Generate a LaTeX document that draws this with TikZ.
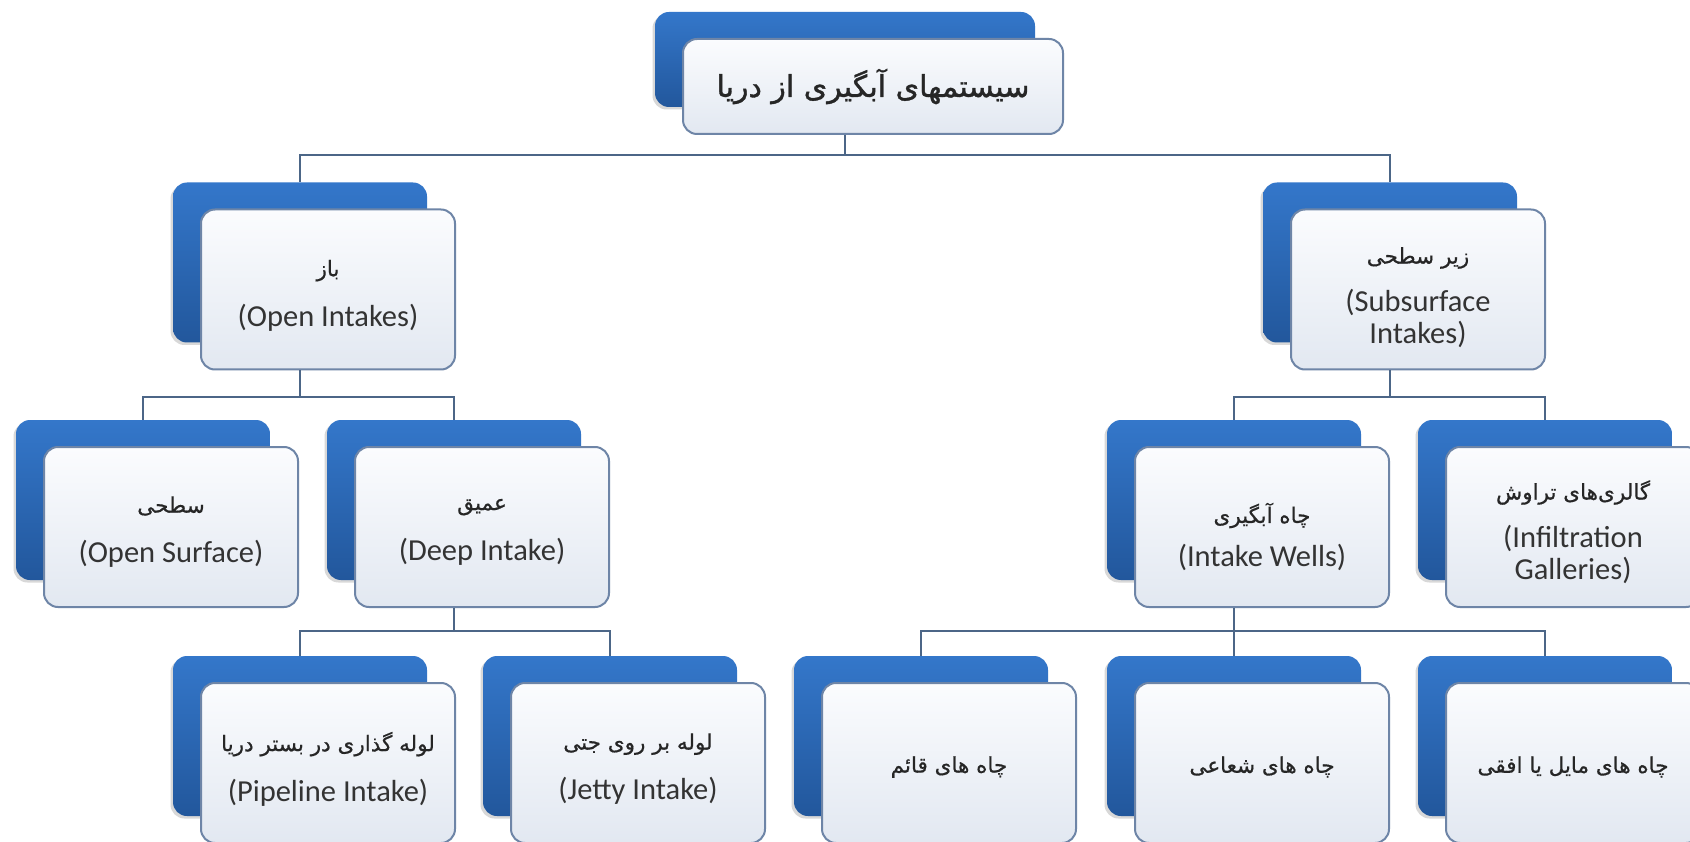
\documentclass[tikz,border=0pt]{standalone}
\usepackage{fontspec}
\setmainfont{Carlito}
\newfontfamily\fa[Script=Arabic,FakeBold=0.6]{DejaVu Sans}
\newfontfamily\faroot[Script=Arabic,FakeBold=1.2]{DejaVu Sans}
\TeXXeTstate=1
\usetikzlibrary{shadows}
\definecolor{backtop}{HTML}{3477CA}
\definecolor{backbot}{HTML}{22579C}
\definecolor{frtop}{HTML}{FBFCFE}
\definecolor{frbot}{HTML}{E2E8F1}
\definecolor{frline}{HTML}{6E85A7}
\definecolor{linkc}{HTML}{4C6687}
\definecolor{txtc}{HTML}{333333}
\definecolor{fatxt}{HTML}{262626}
\newcommand\twobox[4][]{%
  \node[backbox,#1] (#2B) at (#3,#4) {};
  \node[frontbox,#1] (#2) at ([shift={(28,27)}]#2B.center) {};}
\newcommand\faline[1]{{\fa\color{fatxt}\fontsize{21.5}{24}\selectfont\beginR #1\endR}}
\begin{document}
\begin{tikzpicture}[x=1pt,y=-1pt,
  backbox/.style={rounded corners=14pt, minimum width=254pt, minimum height=160pt,
    inner sep=0pt, top color=backtop, bottom color=backbot, draw=none,
    drop shadow={shadow xshift=-2.5pt, shadow yshift=-2.5pt, opacity=0.3}},
  frontbox/.style={rounded corners=14pt, minimum width=254pt, minimum height=160pt,
    inner sep=0pt, top color=frtop, bottom color=frbot, draw=frline, line width=2pt},
  lbl/.style={align=center, text=txtc, inner sep=0pt, font=\fontsize{30.5}{32}\selectfont},
  link/.style={draw=linkc, line width=2.7pt}]
\useasboundingbox (0,0) rectangle (1690,842);
\clip (0,0) rectangle (1690,842);
\fill[white] (0,0) rectangle (1690,842);

% boxes
\twobox[minimum width=380pt, minimum height=95pt]{root}{845}{59.5}
\twobox{open}{300}{262.5}
\twobox{sub}{1390}{262.5}
\twobox{surf}{143}{500}
\twobox{deep}{454}{500}
\twobox{wells}{1234}{500}
\twobox{infil}{1545}{500}
\twobox{pipe}{300}{736}
\twobox{jetty}{610}{736}
\twobox{vert}{921}{736}
\twobox{radial}{1234}{736}
\twobox{mayel}{1545}{736}

% texts
\node[lbl] (rootT) at (root.center) {{\faroot\color{fatxt}\fontsize{30}{34}\selectfont\beginR سیستمهای آبگیری از دریا\endR}};
\node[lbl] (openT) at ([yshift=-6pt]open.center) {\faline{باز}\\[18pt](Open Intakes)};
\node[lbl] (subT) at ([yshift=-8pt]sub.center) {\faline{زیر سطحی}\\[16pt](Subsurface\\Intakes)};
\node[lbl] (surfT) at ([yshift=-5pt]surf.center) {\faline{سطحی}\\[18pt](Open Surface)};
\node[lbl] (deepT) at ([yshift=-5pt]deep.center) {\faline{عمیق}\\[18pt](Deep Intake)};
\node[lbl] (wellsT) at ([yshift=-10pt]wells.center) {\faline{چاه آبگیری}\\[12pt](Intake Wells)};
\node[lbl] (infilT) at ([yshift=-5pt]infil.center) {\faline{گالری‌های تراوش}\\[16pt](Infiltration\\Galleries)};
\node[lbl] (pipeT) at ([yshift=-6pt]pipe.center) {\faline{لوله گذاری در بستر دریا}\\[18pt](Pipeline Intake)};
\node[lbl] (jettyT) at ([yshift=-6pt]jetty.center) {\faline{لوله بر روی جتی}\\[18pt](Jetty Intake)};
\node[lbl] (vertT) at ([yshift=-4pt]vert.center) {\faline{چاه های قائم}};
\node[lbl] (radialT) at ([yshift=-4pt]radial.center) {\faline{چاه های شعاعی}};
\node[lbl] (mayelT) at ([yshift=-4pt]mayel.center) {\faline{چاه های مایل یا افقی}};

% bar points
\coordinate (bar0) at (845,155);
\coordinate (bar1L) at (300,397);
\coordinate (bar1R) at (1390,397);
\coordinate (bar2L) at (454,631);
\coordinate (bar2R) at (1234,631);

% connectors
\draw[link] (root.south -| rootB.center) -- (bar0) -| (openB.north);
\draw[link] (bar0) -| (subB.north);
\draw[link] (open.south -| openB.center) -- (bar1L) -| (surfB.north);
\draw[link] (bar1L) -| (deepB.north);
\draw[link] (sub.south -| subB.center) -- (bar1R) -| (wellsB.north);
\draw[link] (bar1R) -| (infilB.north);
\draw[link] (deep.south -| deepB.center) -- (bar2L) -| (pipeB.north);
\draw[link] (bar2L) -| (jettyB.north);
\draw[link] (wells.south -| wellsB.center) -- (bar2R) -| (vertB.north);
\draw[link] (bar2R) -- (radialB.north);
\draw[link] (bar2R) -| (mayelB.north);
\end{tikzpicture}
\end{document}
